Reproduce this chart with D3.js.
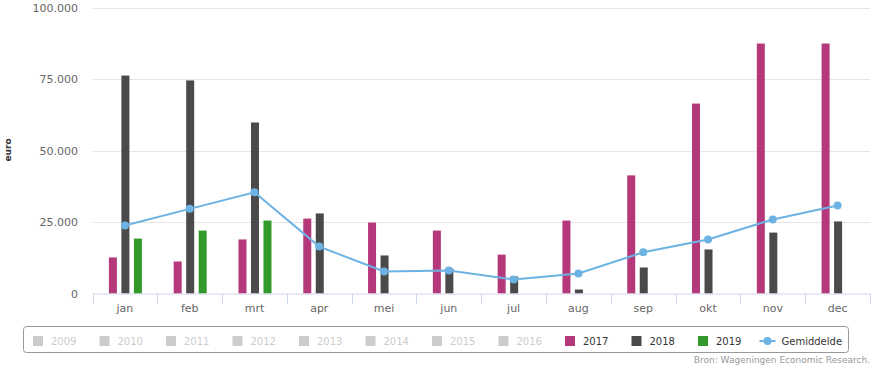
<!DOCTYPE html>
<html>
<head>
<meta charset="utf-8">
<script src="https://cdn.jsdelivr.net/npm/d3@7"></script>
<style>
  body { margin: 0; background: #fff; }
  svg { font-family: "DejaVu Sans", Verdana, sans-serif; display: block; }
</style>
</head>
<body>
<svg id="chart" width="876" height="376"></svg>
<script>
// data
const months = ["jan", "feb", "mrt", "apr", "mei", "jun", "jul", "aug", "sep", "okt", "nov", "dec"];
const v2017 = [12600, 11200, 18900, 26200, 24800, 22000, 13600, 25500, 41300, 66400, 87400, 87400];
const v2018 = [76200, 74500, 59800, 28000, 13300, 8700, 5900, 1400, 9100, 15400, 21300, 25200];
const v2019 = [19200, 22000, 25500, null, null, null, null, null, null, null, null, null];
const gemiddelde = [23800, 29600, 35400, 16400, 7700, 8000, 4900, 7000, 14400, 18900, 25900, 30800];
const yTicks = [0, 25000, 50000, 75000, 100000];
const hiddenYears = ["2009", "2010", "2011", "2012", "2013", "2014", "2015", "2016"];

const series = [
  { name: "2017", values: v2017, color: "#b5397a" },
  { name: "2018", values: v2018, color: "#4a4a4a" },
  { name: "2019", values: v2019, color: "#33992a" }
];
const lineColor = "#6cb2e3";

var svg = d3.select("#chart");
var plotLeft = 92.5, plotRight = 870, plotTop = 7.5, plotBottom = 293.5;

var x = d3.scaleBand().domain(months).range([plotLeft, plotRight]);
var y = d3.scaleLinear().domain([0, 100000]).range([plotBottom, plotTop]);
var xs = d3.scaleBand().domain(series.map(s => s.name)).range([-16, 17]).paddingInner(0.36);

const fmt = v => v === 0 ? "0" : d3.format(",")(v).replace(/,/g, ".");

// grid
svg.append("g")
  .selectAll("line")
  .data(yTicks.filter(t => t > 0))
  .enter()
  .append("line")
  .attr("x1", plotLeft).attr("x2", plotRight)
  .attr("y1", d => Math.round(y(d)) + 0.5).attr("y2", d => Math.round(y(d)) + 0.5)
  .attr("stroke", "#e6e6e6");

// y labels
svg.append("g")
  .selectAll("text")
  .data(yTicks)
  .enter()
  .append("text")
  .attr("x", 78)
  .attr("y", d => y(d) + 4)
  .attr("text-anchor", "end")
  .attr("font-size", 11)
  .attr("fill", "#666")
  .text(fmt);

svg.append("text")
  .attr("transform", "translate(11,150) rotate(-90)")
  .attr("text-anchor", "middle")
  .attr("font-size", 9)
  .attr("font-weight", "bold")
  .attr("fill", "#333")
  .text("euro");

// bars
series.forEach(s => {
  svg.append("g")
    .selectAll("rect")
    .data(s.values.map((v, i) => ({ m: months[i], v })).filter(d => d.v != null))
    .enter()
    .append("rect")
    .attr("x", d => x(d.m) + x.bandwidth() / 2 + xs(s.name))
    .attr("width", xs.bandwidth())
    .attr("y", d => y(d.v))
    .attr("height", d => plotBottom - y(d.v))
    .attr("fill", s.color);
});

// x axis
svg.append("line")
  .attr("x1", plotLeft).attr("x2", plotRight)
  .attr("y1", plotBottom + 0.5).attr("y2", plotBottom + 0.5)
  .attr("stroke", "#ccd6eb");
svg.append("g")
  .selectAll("line")
  .data(months.map(m => x(m)).concat([plotRight]))
  .enter()
  .append("line")
  .attr("x1", d => Math.round(d) + 0.5).attr("x2", d => Math.round(d) + 0.5)
  .attr("y1", plotBottom).attr("y2", plotBottom + 10)
  .attr("stroke", "#ccd6eb");
svg.append("g")
  .selectAll("text")
  .data(months)
  .enter()
  .append("text")
  .attr("x", d => x(d) + x.bandwidth() / 2)
  .attr("y", 312)
  .attr("text-anchor", "middle")
  .attr("font-size", 11)
  .attr("fill", "#666")
  .text(d => d);

// line
var cx = d => x(d) + x.bandwidth() / 2;
svg.append("path")
  .datum(gemiddelde)
  .attr("fill", "none")
  .attr("stroke", lineColor)
  .attr("stroke-width", 2)
  .attr("d", d3.line().x((d, i) => cx(months[i])).y(d => y(d)));
svg.append("g")
  .selectAll("circle")
  .data(gemiddelde)
  .enter()
  .append("circle")
  .attr("cx", (d, i) => cx(months[i]))
  .attr("cy", d => y(d))
  .attr("r", 4)
  .attr("fill", lineColor);

// legend
var legend = svg.append("g");
legend.append("rect")
  .attr("x", 23.5).attr("y", 326.5)
  .attr("width", 825).attr("height", 26)
  .attr("rx", 3)
  .attr("fill", "#fff")
  .attr("stroke", "#999");

var items = hiddenYears.map(n => ({ name: n, color: "#ccc", text: "#ccc" }))
  .concat(series.map(s => ({ name: s.name, color: s.color, text: "#333" })));
var step = 66.5;
items.forEach((it, i) => {
  var lx = 33 + i * step;
  legend.append("rect")
    .attr("x", lx).attr("y", 336)
    .attr("width", 10).attr("height", 10)
    .attr("fill", it.color);
  legend.append("text")
    .attr("x", lx + 18).attr("y", 345)
    .attr("font-size", 10)
    .attr("fill", it.text)
    .text(it.name);
});
var gx = 33 + items.length * step - 5;
legend.append("line")
  .attr("x1", gx).attr("x2", gx + 16)
  .attr("y1", 341).attr("y2", 341)
  .attr("stroke", lineColor).attr("stroke-width", 2);
legend.append("circle")
  .attr("cx", gx + 8).attr("cy", 341).attr("r", 4)
  .attr("fill", lineColor);
legend.append("text")
  .attr("x", gx + 22).attr("y", 345)
  .attr("font-size", 10)
  .attr("fill", "#333")
  .text("Gemiddelde");

svg.append("text")
  .attr("x", 870).attr("y", 363)
  .attr("text-anchor", "end")
  .attr("font-size", 9)
  .attr("fill", "#999")
  .text("Bron: Wageningen Economic Research.");
</script>
</body>
</html>
